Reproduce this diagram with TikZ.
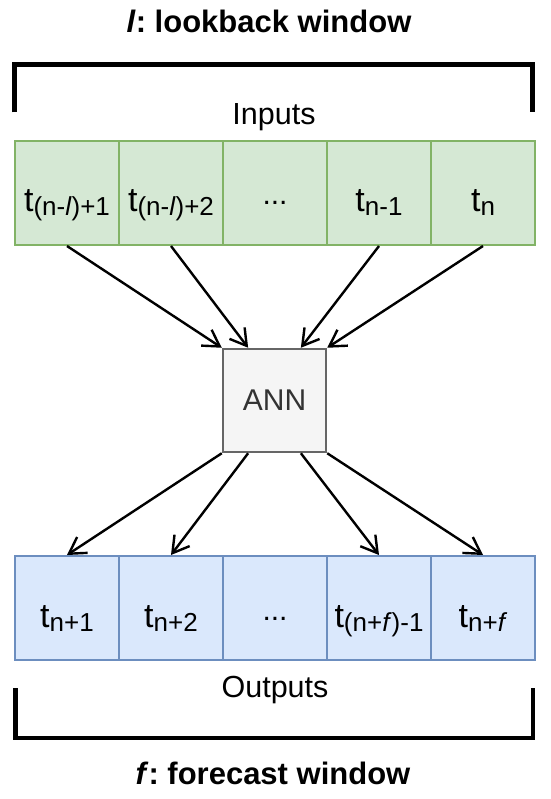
\documentclass[tikz,border=0pt]{standalone}
\usepackage{fontspec}
\setmainfont{Liberation Sans}
\usetikzlibrary{arrows.meta,calc}
\definecolor{gfill}{HTML}{D5E8D4}
\definecolor{gline}{HTML}{82B366}
\definecolor{bfill}{HTML}{DAE8FC}
\definecolor{bline}{HTML}{6C8EBF}
\definecolor{afill}{HTML}{F5F5F5}
\definecolor{aline}{HTML}{666666}
\definecolor{atext}{HTML}{333333}
\newcommand\sbs[1]{\raisebox{-4pt}{\fontsize{26}{26}\selectfont #1}}
\newcommand\mydots{\raisebox{7pt}{\fontsize{30}{30}\selectfont ...}}
\frenchspacing
\begin{document}
\begin{tikzpicture}[x=1pt,y=-1pt,
  cellbase/.style={line width=2pt, minimum width=104pt, minimum height=104pt, inner sep=0pt, text height=38pt, text depth=0pt, font=\fontsize{34}{34}\selectfont},
  incell/.style={cellbase, draw=gline, fill=gfill},
  outcell/.style={cellbase, draw=bline, fill=bfill},
  annbox/.style={line width=2.5pt, draw=aline, fill=afill, text=atext, minimum width=103pt, minimum height=103pt, inner sep=0pt, font=\fontsize{30}{30}\selectfont},
  arr/.style={line width=2.4pt, -{Straight Barb[length=16pt,width=19pt,line width=2.4pt]}},
  brk/.style={line width=4.5pt, line cap=butt, line join=miter},
  ttl/.style={anchor=base, font=\fontsize{31}{31}\selectfont\bfseries},
  lbl/.style={anchor=base, font=\fontsize{30.5}{30.5}\selectfont}
]
\useasboundingbox (0,0) rectangle (550,799);
% titles and labels
\node[ttl] (ttop) at (269,33) {\textit{l}: lookback window};
\node[lbl] (tin) at (274,125) {Inputs};
\node[lbl] (tout) at (275,697) {Outputs};
\node[ttl] (tbot) at (273,784) {\textit{f}: forecast window};
% brackets
\draw[brk] (14.5,112.5) |- (532.5,64.5) -- (532.5,112.5);
\draw[brk] (15.5,688) |- (533,738) -- (533,688);
% inputs
\node[incell] (i1) at (67,193) {t\sbs{(n-\textit{l})+1}};
\node[incell] (i2) at (171,193) {t\sbs{(n-\textit{l})+2}};
\node[incell] (i3) at (275,193) {\mydots};
\node[incell] (i4) at (379,193) {t\sbs{n-1}};
\node[incell] (i5) at (483,193) {t\sbs{n}};
% ann
\node[annbox] (ann) at (274.5,400.5) {ANN};
% outputs
\node[outcell] (o1) at (67,608) {t\sbs{n+1}};
\node[outcell] (o2) at (171,608) {t\sbs{n+2}};
\node[outcell] (o3) at (275,608) {\mydots};
\node[outcell] (o4) at (379,608) {t\sbs{(n+\textit{f})-1}};
\node[outcell] (o5) at (483,608) {t\sbs{n+\textit{f}}};
% connectors
\coordinate (an1) at (ann.north west);
\coordinate (an2) at ($(ann.north west)!0.25!(ann.north east)$);
\coordinate (an4) at ($(ann.north west)!0.75!(ann.north east)$);
\coordinate (an5) at (ann.north east);
\coordinate (as1) at (ann.south west);
\coordinate (as2) at ($(ann.south west)!0.25!(ann.south east)$);
\coordinate (as4) at ($(ann.south west)!0.75!(ann.south east)$);
\coordinate (as5) at (ann.south east);
\draw[arr] (i1.south) -- (an1);
\draw[arr] (i2.south) -- (an2);
\draw[arr] (i4.south) -- (an4);
\draw[arr] (i5.south) -- (an5);
\draw[arr] (as1) -- (o1.north);
\draw[arr] (as2) -- (o2.north);
\draw[arr] (as4) -- (o4.north);
\draw[arr] (as5) -- (o5.north);
\end{tikzpicture}
\end{document}
